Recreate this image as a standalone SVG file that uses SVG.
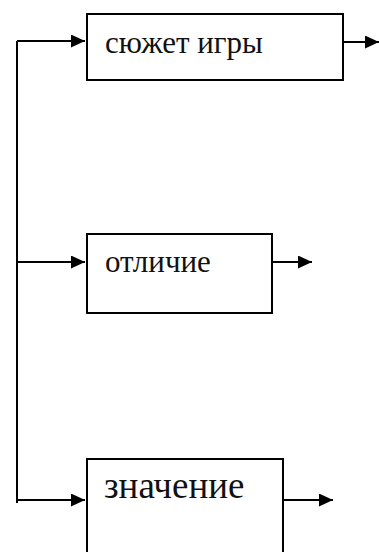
<svg xmlns="http://www.w3.org/2000/svg" width="379" height="552" viewBox="0 0 379 552">
<defs>
<marker id="ah" markerWidth="14" markerHeight="13" refX="14" refY="6.5" orient="auto" markerUnits="userSpaceOnUse">
<path d="M0,0 L14,6.5 L0,13 Z" fill="#000"/>
</marker>
<style>
.box{fill:#fff;stroke:#000;stroke-width:2}
.ln{fill:none;stroke:#000;stroke-width:2}
.t{font-family:"Liberation Serif","Times New Roman",serif;fill:#111}
</style>
</defs>
<rect width="379" height="552" fill="#fff"/>
<g id="connectors">
<path class="ln" d="M17,41 V503"/>
<path class="ln" d="M17,41 H85" marker-end="url(#ah)"/>
<path class="ln" d="M17,262 H85" marker-end="url(#ah)"/>
<path class="ln" d="M17,500 H85" marker-end="url(#ah)"/>
<path class="ln" d="M343,42 H379" marker-end="url(#ah)"/>
<path class="ln" d="M272,262 H312" marker-end="url(#ah)"/>
<path class="ln" d="M283,500 H333" marker-end="url(#ah)"/>
</g>
<g id="node1">
<rect class="box" x="87" y="14" width="256" height="66"/>
<text class="t" x="105" y="53" font-size="31">сюжет игры</text>
</g>
<g id="node2">
<rect class="box" x="87" y="234" width="185" height="79"/>
<text class="t" x="105" y="272" font-size="31">отличие</text>
</g>
<g id="node3">
<rect class="box" x="87" y="459" width="196" height="100"/>
<text class="t" x="104" y="498" font-size="37">значение</text>
</g>
</svg>
